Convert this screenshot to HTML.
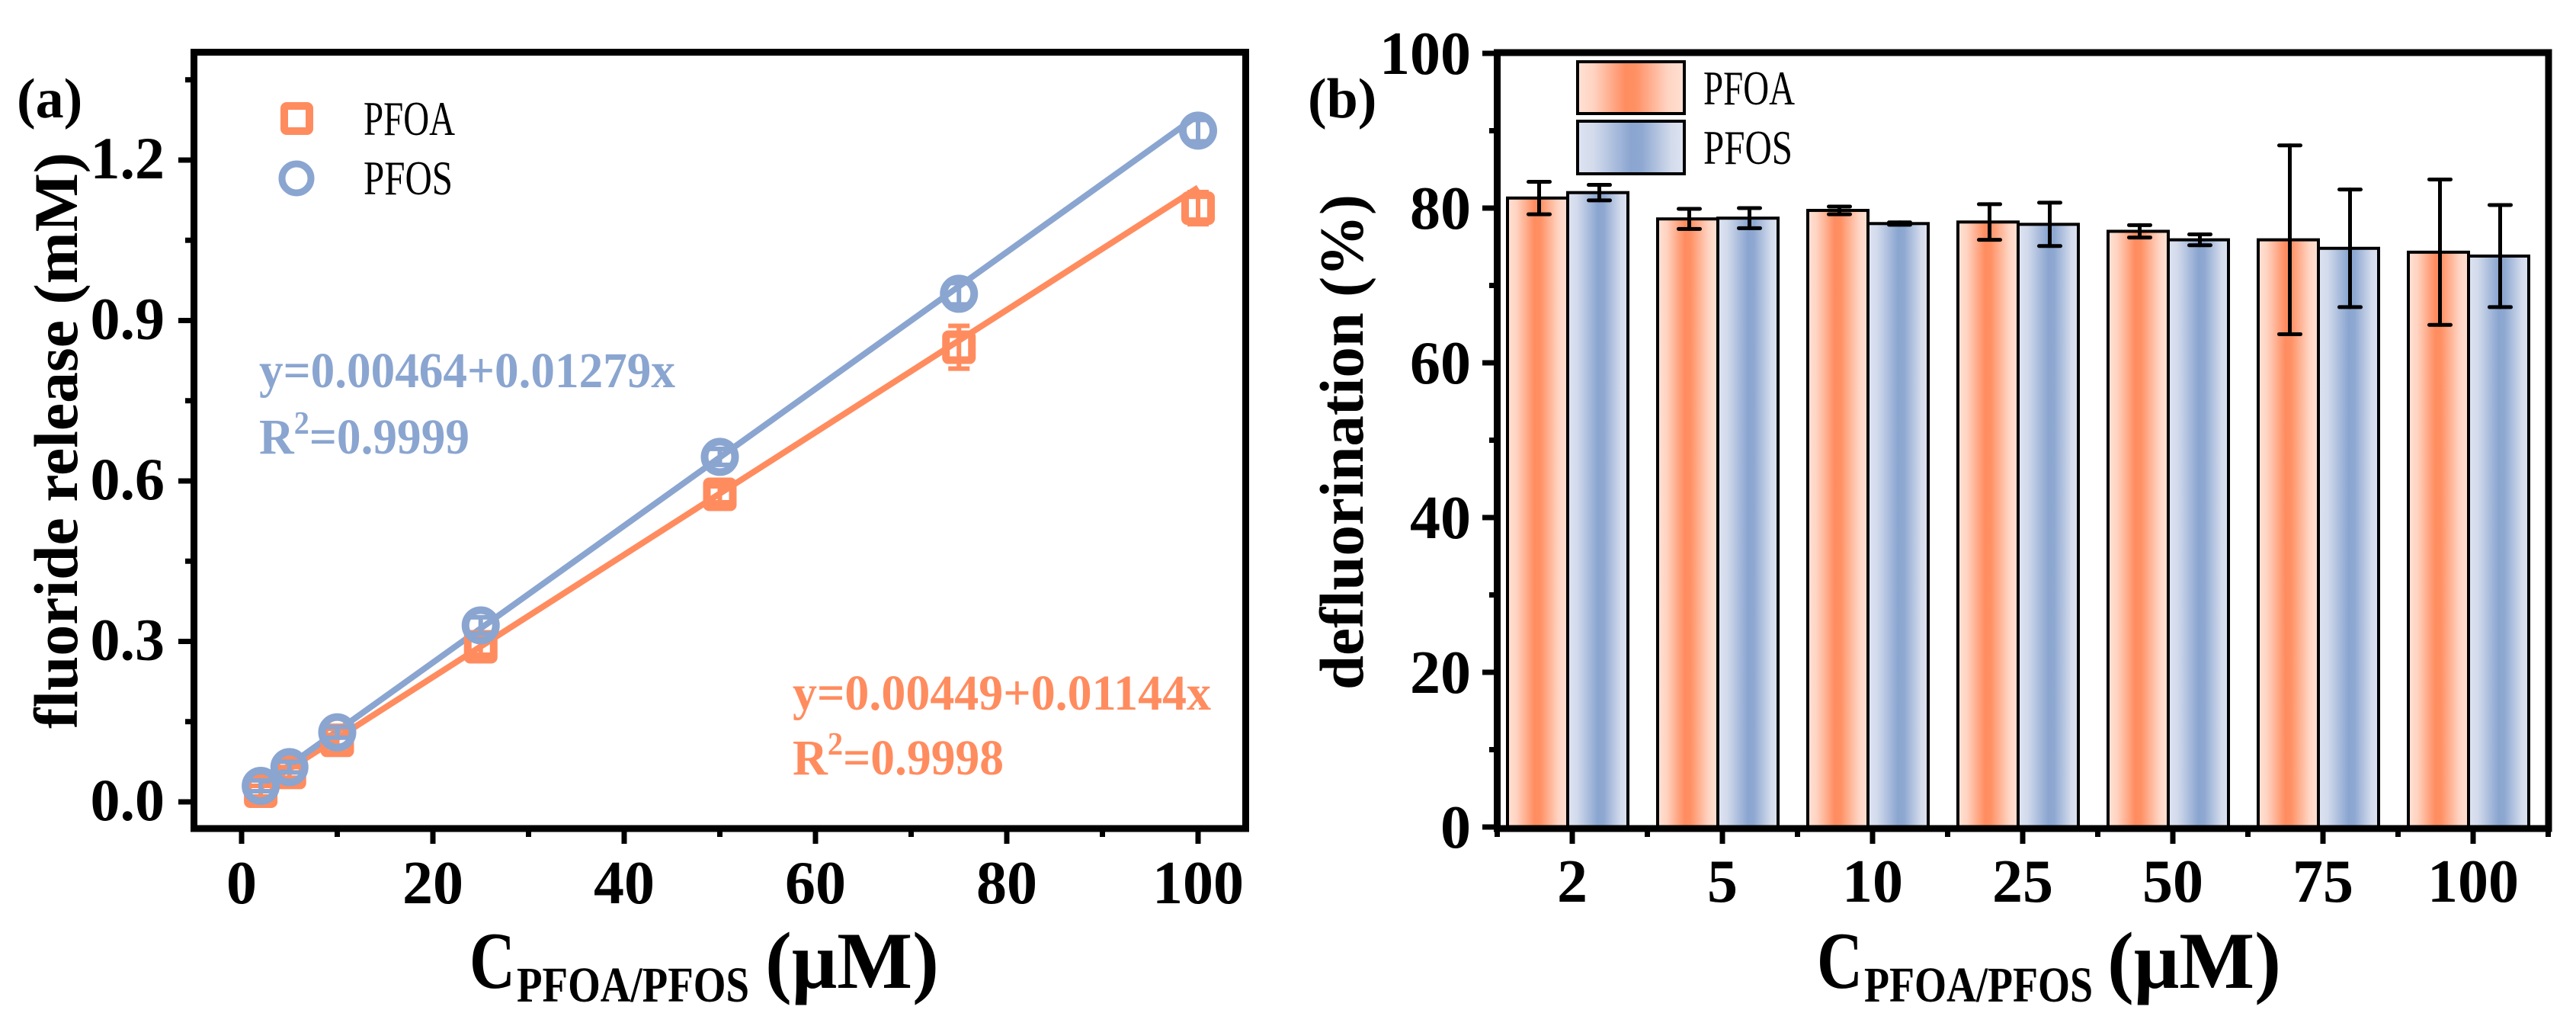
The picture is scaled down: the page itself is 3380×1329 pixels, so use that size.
<!DOCTYPE html>
<html><head><meta charset="utf-8"><style>
html,body{margin:0;padding:0;background:#fff;}
svg{display:block;}
text{font-family:"Liberation Serif","Times New Roman",serif;font-weight:bold;}
</style></head><body>
<svg id="fig" width="3380" height="1329" viewBox="0 0 3380 1329" xmlns="http://www.w3.org/2000/svg" font-family="Liberation Serif, Times New Roman, serif">
<defs>
<linearGradient id="gO" x1="0" x2="1" y1="0" y2="0">
<stop offset="0" stop-color="#ffe2d6"/><stop offset="0.15" stop-color="#ffd3c1"/><stop offset="0.45" stop-color="#ff8c5f"/><stop offset="0.55" stop-color="#ff9165"/><stop offset="0.85" stop-color="#ffd5c4"/><stop offset="1" stop-color="#ffe0d3"/>
</linearGradient>
<linearGradient id="gB" x1="0" x2="1" y1="0" y2="0">
<stop offset="0" stop-color="#dde3f1"/><stop offset="0.15" stop-color="#d3dbec"/><stop offset="0.5" stop-color="#8aa5d0"/><stop offset="0.6" stop-color="#8ea8d1"/><stop offset="0.88" stop-color="#d3dbec"/><stop offset="1" stop-color="#dde3f1"/>
</linearGradient>
</defs>
<g id="pa"></g>
<g id="pb"></g>
</svg>
<script>
// ---------- Panel (a) data ----------
const concA = [2, 5, 10, 25, 50, 75, 100];
const pfoaRelease = [0.02, 0.055, 0.115, 0.29, 0.575, 0.85, 1.11];
const pfosRelease = [0.03, 0.065, 0.13, 0.33, 0.645, 0.95, 1.255];
const pfoaReleaseErr = [0.01, 0.01, 0.01, 0.015, 0.015, 0.04, 0.03];
const pfosReleaseErr = [0.01, 0.01, 0.01, 0.015, 0.015, 0.02, 0.02];
const pfoaFit = [0.00449, 0.01144];
const pfosFit = [0.00464, 0.01279];
const aXTicks = [0, 20, 40, 60, 80, 100];
const aXTickLabels = ["0", "20", "40", "60", "80", "100"];
const aYTicks = [0, 0.3, 0.6, 0.9, 1.2];
const aYTickLabels = ["0.0", "0.3", "0.6", "0.9", "1.2"];
// ---------- Panel (b) data ----------
const categoriesB = ["2", "5", "10", "25", "50", "75", "100"];
const pfoaDefl = [81.3, 78.6, 79.7, 78.2, 77.0, 75.9, 74.3];
const pfosDefl = [82.0, 78.7, 78.0, 77.9, 75.9, 74.8, 73.8];
const pfoaDeflErr = [2.1, 1.3, 0.5, 2.3, 0.8, 12.2, 9.4];
const pfosDeflErr = [1.0, 1.3, 0.15, 2.8, 0.7, 7.6, 6.6];
const bYTicks = [0, 20, 40, 60, 80, 100];
const bYTickLabels = ["0", "20", "40", "60", "80", "100"];

const NS = "http://www.w3.org/2000/svg";
function mk(parent, tag, attrs, txt) {
  const e = document.createElementNS(NS, tag);
  for (const k in attrs) e.setAttribute(k, attrs[k]);
  if (txt !== undefined) e.textContent = txt;
  parent.appendChild(e);
  return e;
}
const ORANGE = "#ff8c5f", BLUE = "#8aa5d0";

const pa = document.getElementById("pa");
const ax = v => 317 + (v - 0) * 12.55;
const ay = v => 1052 - v * 701.7;

[[pfoaFit, ORANGE, "fit-line-pfoa"], [pfosFit, BLUE, "fit-line-pfos"]].forEach(([f, c, n]) => {
  const l = mk(pa, "line", {x1: ax(concA[0]), y1: ay(f[0] + f[1] * concA[0]), x2: ax(concA[concA.length - 1]), y2: ay(f[0] + f[1] * concA[concA.length - 1]), stroke: c, "stroke-width": 8});
  
  
});
function errA(x, y, e, c) {
  const g = mk(pa, "g", {stroke: c, "stroke-width": 6});
  
  
  mk(g, "line", {x1: ax(x), x2: ax(x), y1: ay(y + e), y2: ay(y - e)});
  mk(g, "line", {x1: ax(x) - 14, x2: ax(x) + 14, y1: ay(y + e), y2: ay(y + e)});
  mk(g, "line", {x1: ax(x) - 14, x2: ax(x) + 14, y1: ay(y - e), y2: ay(y - e)});
}
concA.forEach((x, i) => {
  errA(x, pfoaRelease[i], pfoaReleaseErr[i], ORANGE);
  const s = mk(pa, "rect", {x: ax(x) - 17, y: ay(pfoaRelease[i]) - 17, width: 34, height: 34, fill: "none", stroke: ORANGE, "stroke-width": 10, rx: 3});
  
  
});
concA.forEach((x, i) => {
  errA(x, pfosRelease[i], pfosReleaseErr[i], BLUE);
  const c = mk(pa, "circle", {cx: ax(x), cy: ay(pfosRelease[i]), r: 20, fill: "none", stroke: BLUE, "stroke-width": 10});
  
  
});
const fa = mk(pa, "rect", {x: 254.5, y: 68.5, width: 1380, height: 1018.5, fill: "none", stroke: "#000", "stroke-width": 9});


aXTicks.forEach((t, i) => {
  mk(pa, "line", {x1: ax(t), x2: ax(t), y1: 1087, y2: 1107, stroke: "#000", "stroke-width": 7});
  const tl = mk(pa, "text", {x: ax(t), y: 1185, "font-size": 80, "text-anchor": "middle"}, aXTickLabels[i]);
  
  
});
[10, 30, 50, 70, 90].forEach(t => mk(pa, "line", {x1: ax(t), x2: ax(t), y1: 1087, y2: 1098, stroke: "#000", "stroke-width": 7}));
aYTicks.forEach((t, i) => {
  mk(pa, "line", {x1: 234, x2: 255, y1: ay(t), y2: ay(t), stroke: "#000", "stroke-width": 7});
  const tl = mk(pa, "text", {x: 216, y: ay(t) + 24, "font-size": 78, "text-anchor": "end"}, aYTickLabels[i]);
  
  
});
[0.15, 0.45, 0.75, 1.05, 1.35].forEach(t => mk(pa, "line", {x1: 243, x2: 255, y1: ay(t), y2: ay(t), stroke: "#000", "stroke-width": 7}));
</script>
<script>
(function(){
  const pa = document.getElementById("pa");
  pa.insertAdjacentHTML("beforeend", `
  <text x="22" y="154" font-size="74">(a)</text>
  <g>
    <rect x="373" y="139" width="33" height="33" rx="3" fill="none" stroke="#ff8c5f" stroke-width="10"/>
    <text x="477" y="177" font-size="64" style="font-weight:normal" textLength="120" lengthAdjust="spacingAndGlyphs">PFOA</text>
    <circle cx="389" cy="234" r="19" fill="none" stroke="#8aa5d0" stroke-width="9"/>
    <text x="477" y="255" font-size="64" style="font-weight:normal" textLength="117" lengthAdjust="spacingAndGlyphs">PFOS</text>
  </g>
  <text x="340" y="508" font-size="66" fill="#8aa5d0" textLength="546" lengthAdjust="spacingAndGlyphs">y=0.00464+0.01279x</text>
  <text x="340" y="595" font-size="66" fill="#8aa5d0" textLength="276" lengthAdjust="spacingAndGlyphs">R<tspan font-size="42" dy="-26">2</tspan><tspan dy="26">=0.9999</tspan></text>
  <text x="1040" y="931" font-size="66" fill="#ff8c5f" textLength="549" lengthAdjust="spacingAndGlyphs">y=0.00449+0.01144x</text>
  <text x="1040" y="1016" font-size="66" fill="#ff8c5f" textLength="277" lengthAdjust="spacingAndGlyphs">R<tspan font-size="42" dy="-26">2</tspan><tspan dy="26">=0.9998</tspan></text>
  <text transform="translate(101,578) rotate(-90)" font-size="82" text-anchor="middle" textLength="756" lengthAdjust="spacingAndGlyphs">fluoride release (mM)</text>
  <g>
    <text x="616" y="1296" font-size="106" textLength="60" lengthAdjust="spacingAndGlyphs">C</text>
    <text x="678" y="1314" font-size="66" textLength="305" lengthAdjust="spacingAndGlyphs">PFOA/PFOS</text>
    <text x="1004" y="1296" font-size="106" textLength="228" lengthAdjust="spacingAndGlyphs">(μM)</text>
  </g>`);
})();
</script>
<script>
(function(){
const pb = document.getElementById("pb");
const bx = i => 2063 + i * 197;
const by = v => 1085 - v * 10.15;
const BW = 79, OFF = -6;
function errB(cx, v, e) {
  const g = mk(pb, "g", {stroke: "#000", "stroke-width": 5, "stroke-linecap": "round"});
  
  
  mk(g, "line", {x1: cx, x2: cx, y1: by(v + e), y2: by(v - e)});
  mk(g, "line", {x1: cx - 14, x2: cx + 14, y1: by(v + e), y2: by(v + e)});
  mk(g, "line", {x1: cx - 14, x2: cx + 14, y1: by(v - e), y2: by(v - e)});
}
categoriesB.forEach((c, i) => {
  const cen = bx(i) + OFF;
  const r1 = mk(pb, "rect", {x: cen - BW, y: by(pfoaDefl[i]), width: BW, height: by(0) - by(pfoaDefl[i]), fill: "url(#gO)", stroke: "#000", "stroke-width": 4});
  
  
  const r2 = mk(pb, "rect", {x: cen, y: by(pfosDefl[i]), width: BW, height: by(0) - by(pfosDefl[i]), fill: "url(#gB)", stroke: "#000", "stroke-width": 4});
  
  
  errB(cen - BW / 2 + 2, pfoaDefl[i], pfoaDeflErr[i]);
  errB(cen + BW / 2 + 2, pfosDefl[i], pfosDeflErr[i]);
});
const fb = mk(pb, "rect", {x: 1964.5, y: 69, width: 1379.5, height: 1018, fill: "none", stroke: "#000", "stroke-width": 9});


categoriesB.forEach((c, i) => {
  mk(pb, "line", {x1: bx(i), x2: bx(i), y1: 1087, y2: 1107, stroke: "#000", "stroke-width": 7});
  const tl = mk(pb, "text", {x: bx(i), y: 1183, "font-size": 80, "text-anchor": "middle"}, c);
  
  
});
for (let i = -1; i < categoriesB.length; i++) mk(pb, "line", {x1: bx(i) + 98.5, x2: bx(i) + 98.5, y1: 1087, y2: 1098, stroke: "#000", "stroke-width": 7});
bYTicks.forEach((t, i) => {
  mk(pb, "line", {x1: 1945, x2: 1965, y1: by(t), y2: by(t), stroke: "#000", "stroke-width": 7});
  const tl = mk(pb, "text", {x: 1930, y: by(t) + 27, "font-size": 80, "text-anchor": "end"}, bYTickLabels[i]);
  
  
});
[10, 30, 50, 70, 90].forEach(t => mk(pb, "line", {x1: 1954, x2: 1965, y1: by(t), y2: by(t), stroke: "#000", "stroke-width": 7}));
pb.insertAdjacentHTML("beforeend", `
  <text x="1716" y="154" font-size="74">(b)</text>
  <g>
    <rect x="2070" y="81" width="140" height="68" fill="url(#gO)" stroke="#000" stroke-width="4"/>
    <text x="2235" y="137" font-size="64" style="font-weight:normal" textLength="120" lengthAdjust="spacingAndGlyphs">PFOA</text>
    <rect x="2070" y="159" width="140" height="69" fill="url(#gB)" stroke="#000" stroke-width="4"/>
    <text x="2235" y="215" font-size="64" style="font-weight:normal" textLength="117" lengthAdjust="spacingAndGlyphs">PFOS</text>
  </g>
  <text transform="translate(1788,580) rotate(-90)" font-size="82" text-anchor="middle" textLength="650" lengthAdjust="spacingAndGlyphs">defluorination (%)</text>
  <g>
    <text x="2384" y="1296" font-size="106" textLength="60" lengthAdjust="spacingAndGlyphs">C</text>
    <text x="2446" y="1314" font-size="66" textLength="300" lengthAdjust="spacingAndGlyphs">PFOA/PFOS</text>
    <text x="2765" y="1296" font-size="106" textLength="228" lengthAdjust="spacingAndGlyphs">(μM)</text>
  </g>`);
})();
</script>
</body></html>
